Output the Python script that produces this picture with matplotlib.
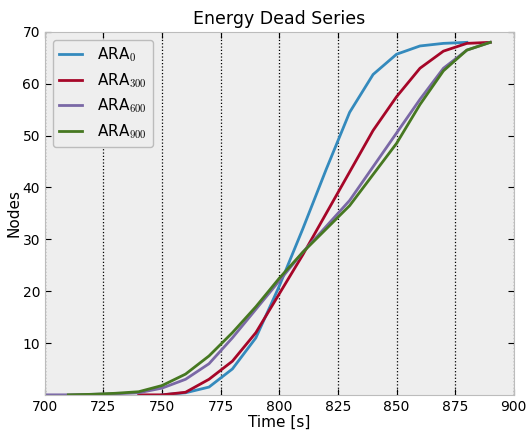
import matplotlib
matplotlib.use("Agg")
import matplotlib.pyplot as plt
import numpy as np

plt.rcParams['mathtext.fontset'] = 'cm'

t_blue = [750, 760, 770, 780, 790, 800, 810, 820, 830, 840, 850, 860, 870, 880]
ara0 = [0, 0.4, 1.5, 5, 11, 21, 32, 43.5, 54.5, 61.8, 65.7, 67.3, 67.8, 68]

t_red = [740, 750, 760, 770, 780, 790, 800, 810, 820, 830, 840, 850, 860, 870, 880, 890]
ara300 = [0, 0, 0.5, 3, 6.5, 12, 19.5, 27, 35, 43, 51, 57.5, 63, 66.3, 67.8, 68]

t_purple = [700, 710, 720, 730, 740, 750, 760, 770, 780, 790, 800, 810, 820, 830, 840, 850, 860, 870, 880, 890]
ara600 = [0, 0, 0.1, 0.2, 0.4, 1.3, 3, 6, 11, 16.5, 22, 27.5, 32.5, 37.5, 44, 50.5, 57, 63, 66.5, 68]

t_green = [710, 720, 730, 740, 750, 760, 770, 780, 790, 800, 810, 820, 830, 840, 850, 860, 870, 880, 890]
ara900 = [0, 0.1, 0.3, 0.6, 1.8, 4, 7.5, 12, 17, 22.5, 27.5, 32, 36.5, 42.5, 48.5, 56, 62.5, 66.5, 68]

fig, ax = plt.subplots(figsize=(5.28, 4.32), dpi=100)
fig.subplots_adjust(left=0.085, right=0.973, top=0.926, bottom=0.086)
ax.set_facecolor('#eeeeee')

ax.plot(t_blue, ara0, color='#348ABD', lw=2, label=r'ARA$_{0}$')
ax.plot(t_red, ara300, color='#A60628', lw=2, label=r'ARA$_{300}$')
ax.plot(t_purple, ara600, color='#7A68A6', lw=2, label=r'ARA$_{600}$')
ax.plot(t_green, ara900, color='#467821', lw=2, label=r'ARA$_{900}$')

ax.set_xlim(700, 900)
ax.set_ylim(0, 70)
ax.set_xticks(np.arange(700, 901, 25))
ax.set_yticks(np.arange(10, 71, 10))
ax.xaxis.grid(True, linestyle=':', color='black', lw=0.9)
ax.set_axisbelow(True)
ax.tick_params(direction='in', top=True, right=True, length=4, labelsize=10)
for s in ax.spines.values():
    s.set_color('#bcbcbc')

ax.set_title('Energy Dead Series', fontsize=12.5)
ax.set_xlabel('Time [s]', fontsize=11, labelpad=1)
ax.set_ylabel('Nodes', fontsize=11, labelpad=1)
leg = ax.legend(loc='upper left', fontsize=11, fancybox=True, framealpha=1,
                handlelength=1.5, handletextpad=1.0, labelspacing=0.45)
leg.get_frame().set_facecolor('#eeeeee')
leg.get_frame().set_edgecolor('#bcbcbc')

fig.savefig('out.png', dpi=100)
